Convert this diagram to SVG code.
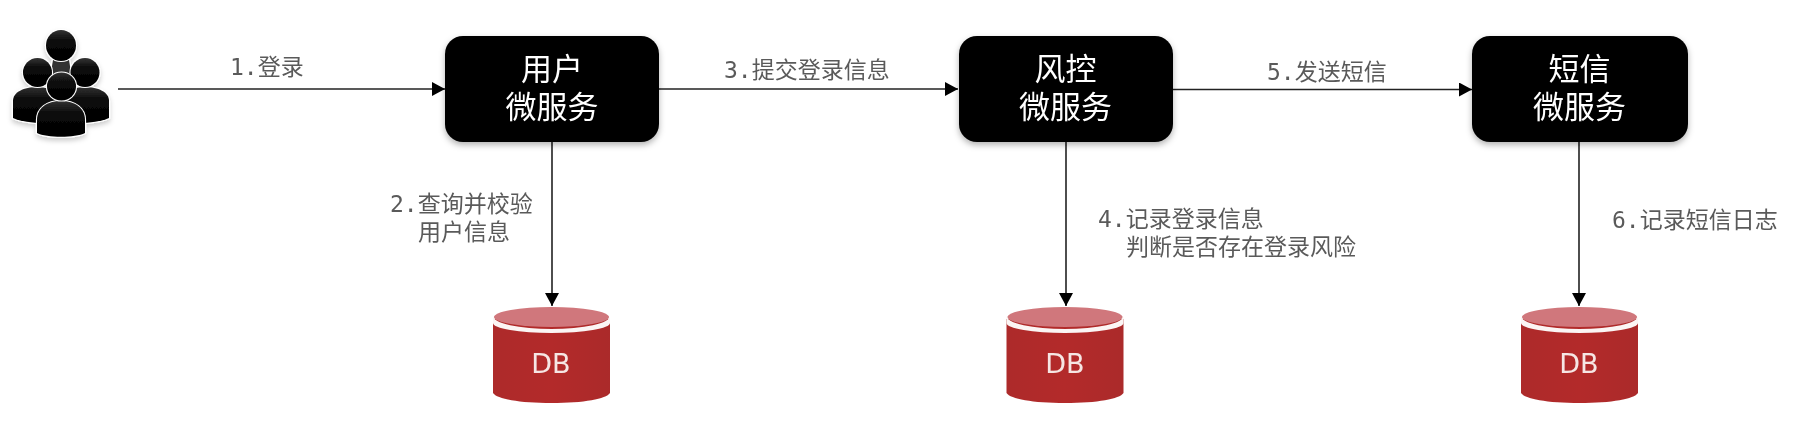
<svg xmlns="http://www.w3.org/2000/svg" width="1800" height="424" viewBox="0 0 1800 424">
<style>
.lbl{font-family:"DejaVu Sans Mono","Noto Sans CJK SC",monospace;font-size:23px;fill:#5a5a5a}
.nt{font-family:"Liberation Sans","Noto Sans CJK SC",sans-serif;font-size:31px;fill:#fff;text-anchor:middle}
.db{font-family:"DejaVu Sans",sans-serif;font-size:27px;fill:#f6e6e4;text-anchor:middle}
.box{fill:#000;filter:url(#sh)}
.cn{stroke:#222;stroke-width:1.6;fill:none;marker-end:url(#ah)}
.halo{fill:none;stroke:#000;stroke-opacity:.05;stroke-width:10;filter:url(#bl)}
.p{fill:url(#pg);stroke:#fff;stroke-width:2.2;paint-order:stroke}
</style>
<defs>
<marker id="ah" markerUnits="userSpaceOnUse" markerWidth="14" markerHeight="14" refX="13" refY="7" orient="auto"><path d="M0 0L13 7L0 14Z" fill="#000"/></marker>
<filter id="sh" x="-10%" y="-10%" width="120%" height="125%"><feDropShadow dx="0" dy="3" stdDeviation="3" flood-color="#000" flood-opacity=".3"/></filter>
<filter id="bl" x="-10%" y="-10%" width="120%" height="120%"><feGaussianBlur stdDeviation="4"/></filter>
<filter id="soft" x="0" y="0" width="1800" height="424" filterUnits="userSpaceOnUse"><feGaussianBlur stdDeviation="0.6"/></filter>
<filter id="ps" x="-15%" y="-10%" width="130%" height="125%"><feDropShadow dx="0" dy="3" stdDeviation="2.500" flood-color="#000" flood-opacity=".2"/></filter>
<linearGradient id="pg" x1="0" y1="0" x2="0" y2="1"><stop offset="0" stop-color="#333"/><stop offset=".35" stop-color="#0a0a0a"/><stop offset="1" stop-color="#000"/></linearGradient>
<linearGradient id="bd" x1="0" y1="0" x2="1" y2="0"><stop offset="0" stop-color="#ad2a2a"/><stop offset=".5" stop-color="#b32c2c"/><stop offset="1" stop-color="#ab2929"/></linearGradient>
<symbol id="cyl" overflow="visible">
<path d="M0 12V86C4 92 26 96 58.500 96S113 92 117 86V12Z" fill="url(#bd)"/>
<path d="M0 9A58.500 13 0 0 0 117 9V16A58.500 10 0 0 1 0 16Z" fill="#fbf5f4"/>
<ellipse cx="58.500" cy="10" rx="57.500" ry="10" fill="#d0777b"/>
</symbol>
</defs>
<rect width="1800" height="424" fill="#fff"/>
<g filter="url(#soft)">
<g id="connectors">
<path class="halo" d="M118 96H445M659 96H958M1173 96H1472"/>
<path class="cn" d="M118 89H445"/>
<path class="cn" d="M659 89H958"/>
<path class="cn" d="M1173 89.500H1472"/>
<path class="cn" d="M552 142V306"/>
<path class="cn" d="M1066 142V306"/>
<path class="cn" d="M1579 142V306"/>
</g>
<g id="users" filter="url(#ps)">
<path class="p" d="M52 66L53 60H69L70 66L74 95H48Z" style="fill:#333"/>
<ellipse class="p" cx="61" cy="45.500" rx="15" ry="15.500"/>
<path class="p" d="M13 101C13 92 24 87 37 87S58 92 58 101V122C44 124 24 123 13 118Z"/>
<path class="p" d="M109 101C109 92 98 87 85 87S64 92 64 101V122C78 124 98 123 109 118Z"/>
<ellipse class="p" cx="37.500" cy="72.500" rx="14.500" ry="14.500"/>
<ellipse class="p" cx="85" cy="72.500" rx="14.500" ry="14.500"/>
<path class="p" d="M37 120C37 108 47 101 61 101S85 108 85 120V133C75 138 47 138 37 133Z"/>
<ellipse class="p" cx="61.500" cy="86.500" rx="14.500" ry="14"/>
</g>
<g id="user-service"><rect class="box" x="445" y="36" width="214" height="106" rx="18"/><text class="nt"><tspan x="552" y="80">用户</tspan><tspan x="552" y="118">微服务</tspan></text></g>
<g id="risk-service"><rect class="box" x="959" y="36" width="214" height="106" rx="18"/><text class="nt"><tspan x="1065.500" y="80">风控</tspan><tspan x="1065.500" y="118">微服务</tspan></text></g>
<g id="sms-service"><rect class="box" x="1472" y="36" width="216" height="106" rx="18"/><text class="nt"><tspan x="1579.500" y="80">短信</tspan><tspan x="1579.500" y="118">微服务</tspan></text></g>
<g id="db1"><use href="#cyl" x="493" y="307"/><text class="db" x="551" y="373">DB</text></g>
<g id="db2"><use href="#cyl" x="1006.500" y="307"/><text class="db" x="1065" y="373">DB</text></g>
<g id="db3"><use href="#cyl" x="1521" y="307"/><text class="db" x="1579" y="373">DB</text></g>
<g id="labels">
<text class="lbl" x="230" y="75">1.登录</text>
<text class="lbl" x="724" y="78">3.提交登录信息</text>
<text class="lbl" x="1267" y="80">5.发送短信</text>
<text class="lbl" x="390" y="212">2.查询并校验</text>
<text class="lbl" x="418" y="240">用户信息</text>
<text class="lbl" x="1098" y="227">4.记录登录信息</text>
<text class="lbl" x="1126" y="255">判断是否存在登录风险</text>
<text class="lbl" x="1612" y="228">6.记录短信日志</text>
</g>
</g>
</svg>
